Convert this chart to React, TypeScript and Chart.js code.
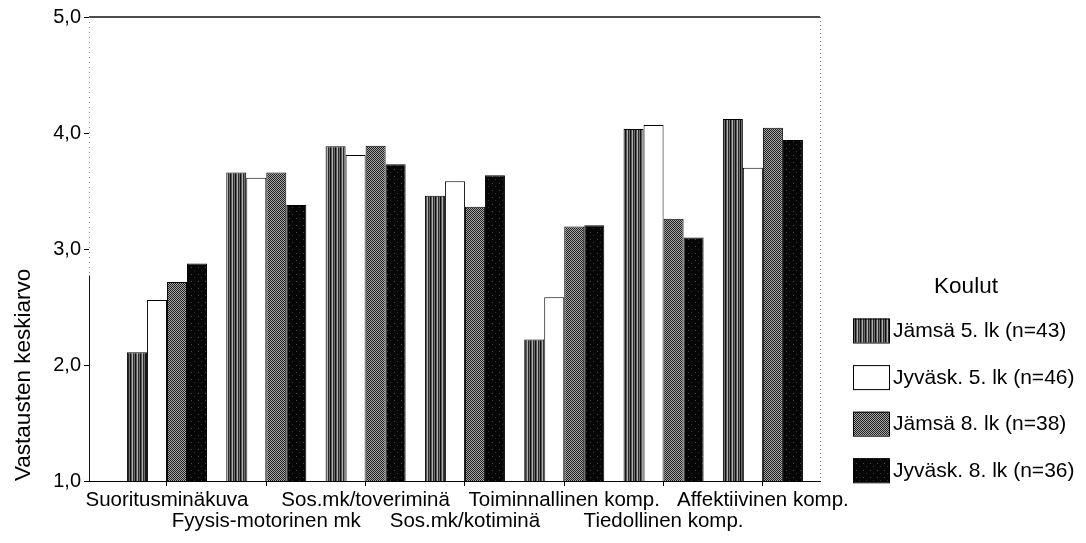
import React, { useEffect, useRef } from 'react';
import { Chart, registerables } from 'chart.js';

Chart.register(...registerables);

const categories = [
  'Suoritusminäkuva',
  'Fyysis-motorinen mk',
  'Sos.mk/toveriminä',
  'Sos.mk/kotiminä',
  'Toiminnallinen komp.',
  'Tiedollinen komp.',
  'Affektiivinen komp.',
];
const seriesLabels = [
  'Jämsä 5. lk (n=43)',
  'Jyväsk. 5. lk (n=46)',
  'Jämsä 8. lk (n=38)',
  'Jyväsk. 8. lk (n=36)',
];
const jamsa5 = [2.11, 3.66, 3.885, 3.46, 2.22, 4.035, 4.12];
const jyvask5 = [2.56, 3.615, 3.81, 3.585, 2.585, 4.07, 3.70];
const jamsa8 = [2.715, 3.66, 3.89, 3.365, 3.195, 3.26, 4.045];
const jyvask8 = [2.875, 3.38, 3.73, 3.635, 3.205, 3.10, 3.94];
const yMin = 1;
const yMax = 5;
const yStep = 1;
const yTitle = 'Vastausten keskiarvo';
const legendTitle = 'Koulut';

const FAMILY = '"Liberation Sans", Arial, sans-serif';

function stripePattern(colors: string[]): CanvasPattern | string {
  const c = document.createElement('canvas');
  c.width = colors.length;
  c.height = 1;
  const g = c.getContext('2d')!;
  colors.forEach((col, i) => {
    g.fillStyle = col;
    g.fillRect(i, 0, 1, 1);
  });
  return g.createPattern(c, 'repeat') || colors[0];
}

function gridPattern(rows: string[][]): CanvasPattern | string {
  const c = document.createElement('canvas');
  c.width = rows[0].length;
  c.height = rows.length;
  const g = c.getContext('2d')!;
  rows.forEach((row, y) =>
    row.forEach((col, x) => {
      g.fillStyle = col;
      g.fillRect(x, y, 1, 1);
    })
  );
  return g.createPattern(c, 'repeat') || rows[0][0];
}

export default function App() {
  const ref = useRef<HTMLCanvasElement | null>(null);

  useEffect(() => {
    if (!ref.current) return;
    const pJ5 = stripePattern(['#111111', '#5a5a5a', '#b0b0b0', '#2a2a2a', '#6e6e6e']);
    const pJ8 = gridPattern([
      ['#1e1e1e', '#a8a8a8'],
      ['#a8a8a8', '#1e1e1e'],
    ]);
    const B = '#060606';
    const pJy8 = gridPattern([
      [B, B, B, B, B, B, B],
      [B, B, '#4a4a4a', B, B, B, B],
      [B, B, B, B, B, B, B],
      [B, B, B, B, B, B, B],
      [B, B, B, B, B, '#333333', B],
      [B, B, B, B, B, B, B],
      [B, B, B, B, B, B, B],
    ]);

    const labels = categories.map((c, i) => (i % 2 === 0 ? [c, ''] : ['', c]));

    const framePlugin = {
      id: 'frameAndLegend',
      afterDraw(chart: any) {
        const { ctx, chartArea } = chart;
        const { left, right, top, bottom } = chartArea;
        const yScale = chart.scales.y;
        ctx.save();
        // top border
        ctx.strokeStyle = '#111';
        ctx.lineWidth = 1.5;
        ctx.setLineDash([]);
        ctx.beginPath();
        ctx.moveTo(left, top);
        ctx.lineTo(right, top);
        ctx.stroke();
        // right border dotted
        ctx.strokeStyle = '#777';
        ctx.lineWidth = 1;
        ctx.setLineDash([1, 3]);
        ctx.beginPath();
        ctx.moveTo(right + 0.5, top);
        ctx.lineTo(right + 0.5, bottom);
        ctx.stroke();
        // left axis: dotted upper, solid lower
        const split = yScale.getPixelForValue(2.77);
        ctx.strokeStyle = '#888';
        ctx.setLineDash([1, 4]);
        ctx.beginPath();
        ctx.moveTo(left + 0.5, top);
        ctx.lineTo(left + 0.5, split);
        ctx.stroke();
        ctx.strokeStyle = '#111';
        ctx.setLineDash([]);
        ctx.beginPath();
        ctx.moveTo(left + 0.5, split);
        ctx.lineTo(left + 0.5, bottom);
        ctx.stroke();

        // legend
        ctx.fillStyle = '#000';
        ctx.textBaseline = 'middle';
        ctx.textAlign = 'center';
        ctx.font = `22.5px ${FAMILY}`;
        ctx.fillText(legendTitle, 966, 287);
        ctx.textAlign = 'left';
        ctx.font = `21px ${FAMILY}`;
        chart.data.datasets.forEach((ds: any, i: number) => {
          const cy = 330.5 + i * 46.6;
          ctx.fillStyle = ds.backgroundColor;
          ctx.fillRect(853, cy - 12, 36, 24);
          ctx.strokeStyle = '#000';
          ctx.lineWidth = 1;
          ctx.strokeRect(853.5, cy - 11.5, 36, 24);
          ctx.fillStyle = '#000';
          ctx.fillText(ds.label, 893, cy + 1);
        });
        ctx.restore();
      },
    };

    const chart = new Chart(ref.current, {
      type: 'bar',
      data: {
        labels,
        datasets: [
          { label: seriesLabels[0], data: jamsa5, backgroundColor: pJ5 as any },
          { label: seriesLabels[1], data: jyvask5, backgroundColor: '#ffffff' },
          { label: seriesLabels[2], data: jamsa8, backgroundColor: pJ8 as any },
          { label: seriesLabels[3], data: jyvask8, backgroundColor: pJy8 as any },
        ].map((d) => ({
          ...d,
          borderColor: '#000',
          borderWidth: 1,
          categoryPercentage: 0.806,
          barPercentage: 1,
        })),
      },
      options: {
        responsive: true,
        maintainAspectRatio: false,
        animation: false,
        layout: { padding: { top: 17, right: 266, left: 0, bottom: 0 } },
        plugins: {
          legend: { display: false },
          tooltip: { enabled: false },
        },
        scales: {
          x: {
            offset: true,
            grid: {
              display: true,
              drawOnChartArea: false,
              drawTicks: true,
              tickLength: 5,
              offset: false,
              color: '#000',
            },
            border: { display: true, color: '#000', width: 1 },
            ticks: {
              autoSkip: false,
              maxRotation: 0,
              minRotation: 0,
              padding: 4,
              color: '#000',
              font: { size: 20.5, family: FAMILY, lineHeight: 1.03 },
            },
            afterBuildTicks: (s: any) => {
              s._startValue = -0.785;
              s._valueRange = 7.36;
            },
            afterUpdate: (s: any) => {
              s._startValue = -0.785;
              s._valueRange = 7.36;
            },
            afterFit: (s: any) => {
              s.height = 62;
            },
          },
          y: {
            min: yMin,
            max: yMax,
            grid: {
              display: true,
              drawOnChartArea: false,
              drawTicks: true,
              tickLength: 5,
              color: '#000',
            },
            border: { display: false },
            ticks: {
              stepSize: yStep,
              padding: 3,
              color: '#000',
              font: { size: 20, family: FAMILY },
              callback: (v: any) => Number(v).toFixed(1).replace('.', ','),
            },
            title: {
              display: true,
              text: yTitle,
              align: 'start',
              color: '#000',
              font: { size: 22.5, family: FAMILY },
              padding: { top: 10, bottom: 0 },
            },
            afterFit: (s: any) => {
              s.width = 89;
            },
          },
        },
      },
      plugins: [framePlugin],
    });
    return () => chart.destroy();
  }, []);

  return (
    <div style={{ position: 'absolute', left: 0, top: 0, width: 1086, height: 543, background: '#fff' }}>
      <canvas ref={ref} />
    </div>
  );
}
